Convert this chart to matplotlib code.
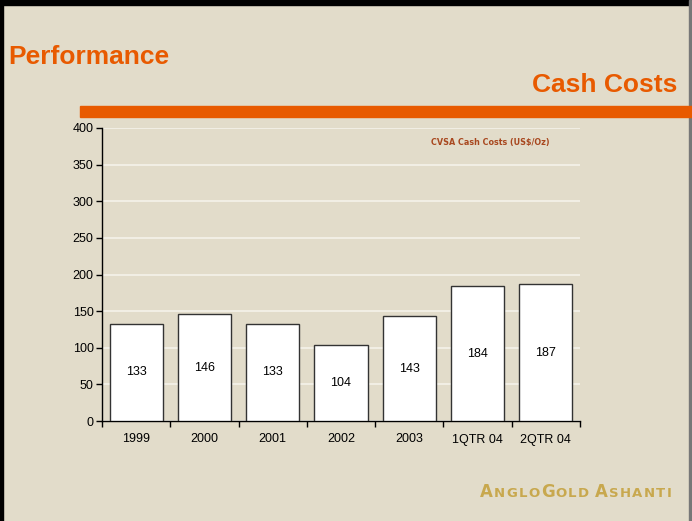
import numpy as np
import matplotlib.pyplot as plt

categories = ['1999', '2000', '2001', '2002', '2003', '1QTR 04', '2QTR 04']
cash_costs = [133, 146, 133, 104, 143, 184, 187]
y_ticks = [0, 50, 100, 150, 200, 250, 300, 350, 400]

W, H = 692, 521
BG = '#E2DCCA'
ORANGE = '#E85A00'
FONT = 'Liberation Sans'

fig = plt.figure(figsize=(W / 100, H / 100), dpi=100, facecolor=BG)

# frame lines on left/top like the slide screenshot
fig.add_artist(plt.Rectangle((0, 0), 3 / W, 1, transform=fig.transFigure, color='black'))
fig.add_artist(plt.Rectangle((0, 1 - 5 / H), 1, 5 / H, transform=fig.transFigure, color='black'))
fig.add_artist(plt.Rectangle((689 / W, 0), 2 / W, 1, transform=fig.transFigure, color='#777777'))

# orange rule
fig.add_artist(plt.Rectangle((80 / W, 1 - 117 / H), (W - 80) / W, 11 / H,
                             transform=fig.transFigure, color=ORANGE))

fig.text(8 / W, 1 - 57 / H, 'Performance', color=ORANGE, fontsize=19,
         fontweight='bold', family=FONT, va='center', ha='left')
fig.text(677 / W, 1 - 85 / H, 'Cash Costs', color=ORANGE, fontsize=19,
         fontweight='bold', family=FONT, va='center', ha='right')

left, right, top, bottom = 102, 580, 128, 421
ax = fig.add_axes([left / W, 1 - bottom / H, (right - left) / W, (bottom - top) / H])
ax.set_facecolor(BG)

x = np.arange(len(categories))
ax.bar(x, cash_costs, width=0.78, color='white', edgecolor='#333333', linewidth=1.0, zorder=3)
for xi, v in zip(x, cash_costs):
    ax.text(xi, v / 2, str(v), ha='center', va='center', fontsize=9,
            family=FONT, zorder=4)

ax.set_xlim(-0.5, len(categories) - 0.5)
ax.set_ylim(0, 400)
ax.set_yticks(y_ticks)
ax.set_yticklabels([str(t) for t in y_ticks], fontsize=9, family=FONT)
ax.set_xticks(x)
ax.set_xticklabels(categories, fontsize=9, family=FONT)
ax.tick_params(axis='x', length=0, pad=9)
ax.set_xticks(np.arange(-0.5, len(categories)), minor=True)
ax.tick_params(axis='x', which='minor', length=4, width=1, direction='out')
ax.tick_params(axis='y', length=4, width=1, direction='out', pad=2)

ax.grid(axis='y', color='#F5F2EA', linewidth=1.2, zorder=0)
for s in ['top', 'right']:
    ax.spines[s].set_visible(False)
ax.spines['left'].set_linewidth(1)
ax.spines['bottom'].set_linewidth(1)

ax.text(0.812, 0.949, 'CVSA Cash Costs (US$/Oz)', transform=ax.transAxes, ha='center',
        va='center', fontsize=5.8, fontweight='bold', color='#A8471E', family='DejaVu Sans')

# logo text in small caps, drawn letter by letter with wide spacing
logo = 'AngloGold Ashanti'
fig.canvas.draw()
renderer = fig.canvas.get_renderer()
xpos = 480
for ch in logo:
    if ch == ' ':
        xpos += 5
        continue
    size = 12 if ch.isupper() else 9.5
    t = fig.text(xpos / W, 1 - 497 / H, ch.upper(), color='#C8A84E', fontsize=size,
                 fontweight='bold', family='DejaVu Sans', va='baseline', ha='left')
    bb = t.get_window_extent(renderer)
    xpos += bb.width + 1.2

fig.savefig('out.png', dpi=100, facecolor=BG)
